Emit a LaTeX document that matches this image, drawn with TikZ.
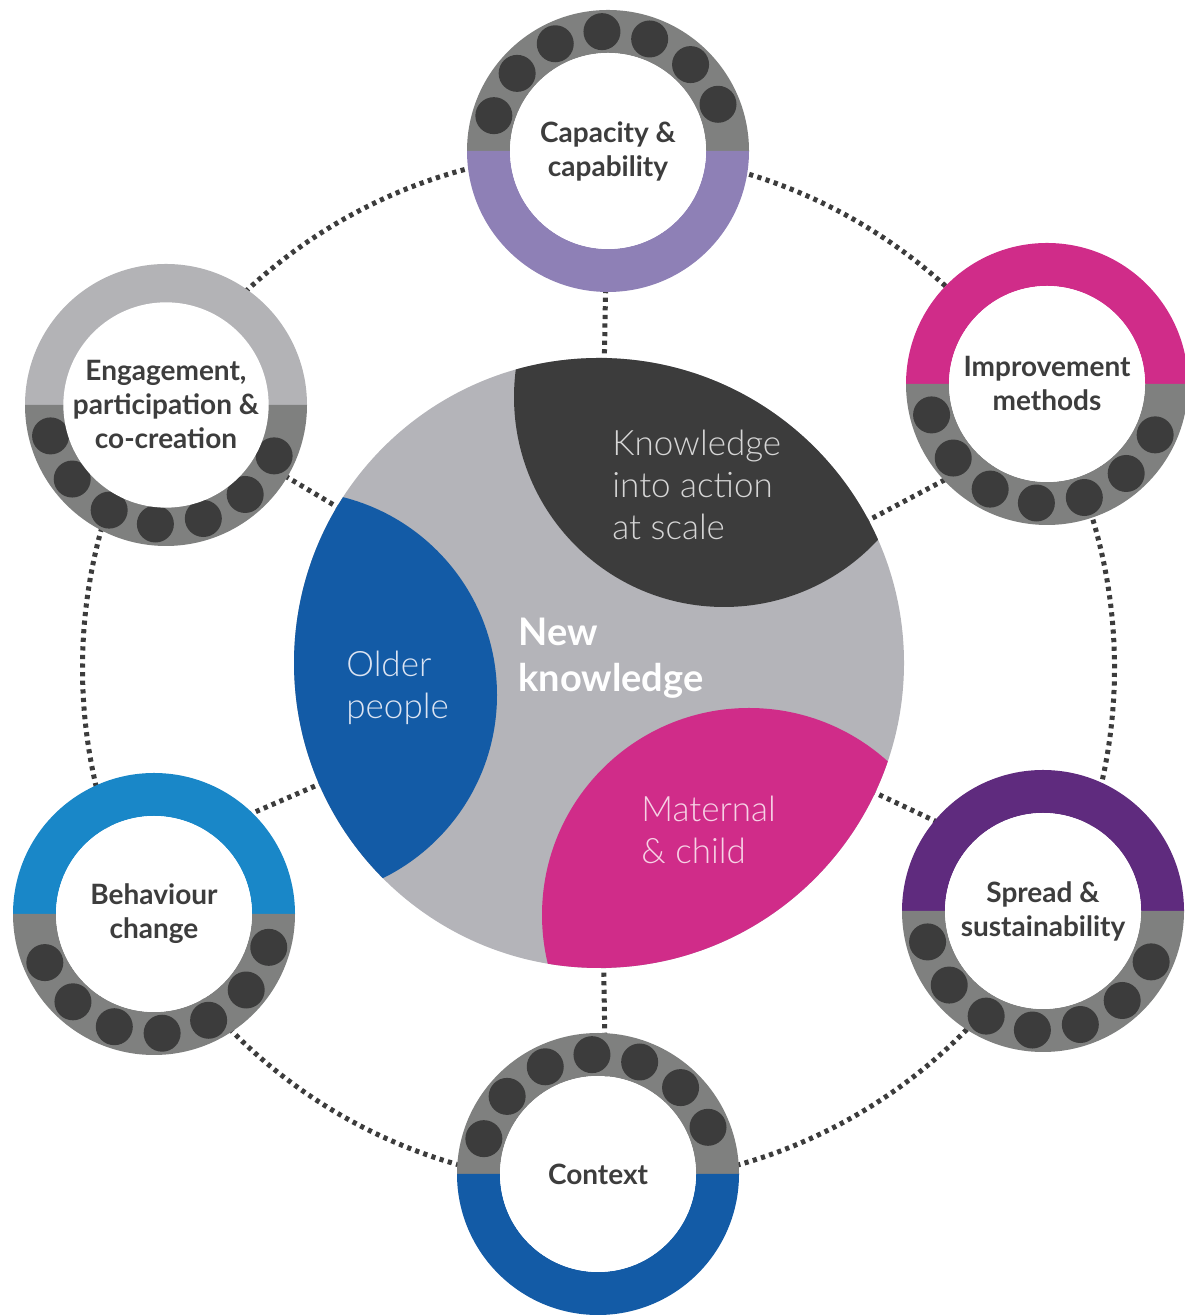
\documentclass[tikz,border=0pt]{standalone}
\usepackage{fontspec}
\setmainfont{Lato}
\newfontfamily\latolight{Lato Light}
\usetikzlibrary{backgrounds,calc}

\definecolor{ringgray}{HTML}{7F807F}
\definecolor{dotgray}{HTML}{3C3C3C}
\definecolor{centralgray}{HTML}{B4B4B9}
\definecolor{textgray}{HTML}{3D3D3D}
\definecolor{capcol}{HTML}{8E80B6}
\definecolor{impcol}{HTML}{D02C89}
\definecolor{sprcol}{HTML}{5F2B7E}
\definecolor{ctxcol}{HTML}{135BA6}
\definecolor{behcol}{HTML}{1987C8}
\definecolor{engcol}{HTML}{B3B3B6}
\definecolor{knowtext}{HTML}{D6D6D6}
\definecolor{oldtext}{HTML}{DCE4F2}
\definecolor{mattext}{HTML}{F6D2E5}

\tikzset{
  satnode/.style={circle,fill=white,minimum size=98pt,inner sep=0pt,align=center,
    text=textgray,font=\bfseries\fontsize{14}{17}\selectfont},
  lenstext/.style={inner sep=0pt,align=left,anchor=west,font=\latolight\fontsize{17.5}{21}\selectfont},
  dotline/.style={draw=dotgray,line width=2.5pt,dash pattern=on 2.1pt off 2.2pt}
}

% ring round a satellite: name, centre, top colour, bottom colour, first dot angle, text
\newcommand{\ringnode}[6]{%
  \begin{scope}[shift={#2}]
    \fill[#3] (0:141) arc[start angle=0,end angle=180,radius=141]
      -- (180:98) arc[start angle=180,end angle=0,radius=98] -- cycle;
    \fill[#4] (180:141) arc[start angle=180,end angle=360,radius=141]
      -- (360:98) arc[start angle=360,end angle=180,radius=98] -- cycle;
    \foreach \k [evaluate=\k as \a using #5+23.3*\k] in {0,...,6}
      \fill[dotgray] (\a:119.5) circle (18.5);
  \end{scope}
  \node[satnode] (#1) at #2 {#6};
}

\begin{document}
\begin{tikzpicture}[x=0.5pt,y=0.5pt]
	\useasboundingbox (0,0) rectangle (1184,1315);
	
	\node[circle,fill=centralgray,minimum size=305pt,inner sep=0pt] (main) at (599,652) {};
	\begin{scope}
	\clip (main.center) circle (305);
	\fill[dotgray] (724,918) circle (210);
	\fill[ctxcol] (293,620) circle (204);
	\fill[impcol] (749,400) circle (207);
	\end{scope}
	
	\node[lenstext,text=knowtext] (scale) at (612,830) {Knowledge\\into action\\at scale};
	\node[lenstext,text=oldtext] (older) at (346,627) {Older\\people};
	\node[lenstext,text=mattext] (maternal) at (641,485) {Maternal\\\& child};
	\node[inner sep=0pt,align=left,anchor=west,text=white,
	font=\bfseries\fontsize{19}{23}\selectfont] (new) at (518,657) {New\\knowledge};
	
	\ringnode{cap}{(608,1164)}{ringgray}{capcol}{23}{Capacity \&\\capability}
	\ringnode{imp}{(1047,931)}{impcol}{ringgray}{195}{Improvement\\methods}
	\ringnode{spr}{(1043,404)}{sprcol}{ringgray}{195}{Spread \&\\sustainability}
	\ringnode{ctx}{(598,141)}{ringgray}{ctxcol}{23}{Context}
	\ringnode{beh}{(154,401)}{behcol}{ringgray}{204}{Behaviour\\change}
	\ringnode{eng}{(166,910)}{engcol}{ringgray}{195}{Engagement,\\participation \&\\co-creation}
	
	\begin{scope}[on background layer]
	\draw[dotline] (598.5,647) circle (516);
	\draw[dotline] (main.center) -- (cap.center);
	\draw[dotline] (main.center) -- ($(main.center)!1!-4:(imp.center)$);
	\draw[dotline] (main.center) -- ($(main.center)!1!4:(spr.center)$);
	\draw[dotline] (main.center) -- ($(main.center)!1!1:(ctx.center)$);
	\draw[dotline] (main.center) -- ($(main.center)!1!-6:(beh.center)$);
	\draw[dotline] (main.center) -- (eng.center);
	\end{scope}
	
\end{tikzpicture}
\end{document}
